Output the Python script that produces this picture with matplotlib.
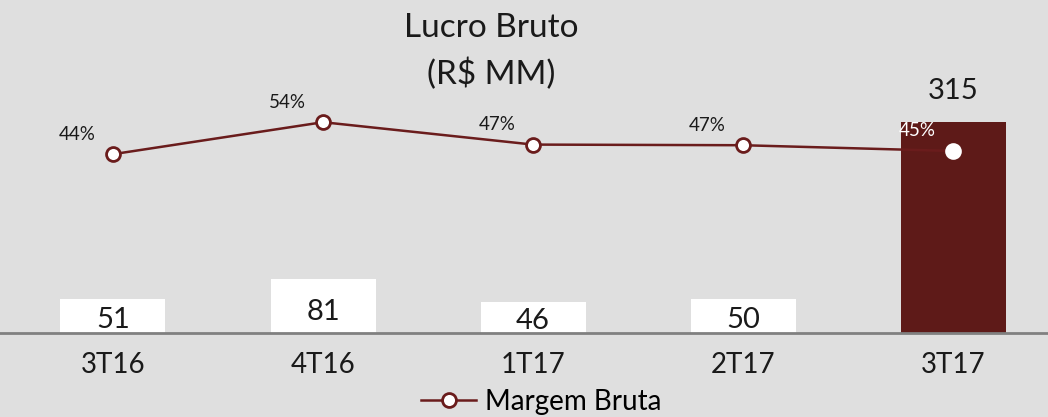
import matplotlib
matplotlib.use("Agg")
import matplotlib.pyplot as plt
from matplotlib.lines import Line2D

plt.rcParams['font.family'] = ['Lato', 'DejaVu Sans']

categories = ["3T16", "4T16", "1T17", "2T17", "3T17"]
lucro_bruto = [51, 81, 46, 50, 315]
margem_bruta = [44, 54, 47, 46.8, 45]
margem_labels = ["44%", "54%", "47%", "47%", "45%"]
title_text = "Lucro Bruto\n(R$ MM)"
legend_label = "Margem Bruta"

bg = "#dfdfdf"
dark_red = "#5e1a18"
line_red = "#6a1c1c"
bar_colors = ["white", "white", "white", "white", dark_red]

W, H = 1048, 417
fig = plt.figure(figsize=(W / 100, H / 100), dpi=100, facecolor=bg)
ax = fig.add_axes([0, 1 - 333 / H, 1, 333 / H])
ax.set_facecolor(bg)

x = list(range(len(categories)))
bars = ax.bar(x, lucro_bruto, width=0.5, color=bar_colors, zorder=2)
ax.set_xlim(-0.538, 4.452)
ax.set_ylim(0, 497)

for s in ["top", "right", "left"]:
    ax.spines[s].set_visible(False)
ax.spines["bottom"].set_color("#808080")
ax.spines["bottom"].set_linewidth(2)
ax.set_yticks([])
ax.set_xticks(x)
ax.set_xticklabels(categories, fontsize=20, color="#1a1a1a")
ax.tick_params(axis="x", length=0, pad=14)

# bar value labels
for i, v in enumerate(lucro_bruto):
    if i == len(lucro_bruto) - 1:
        ax.annotate(str(v), (i, v), xytext=(0, 13), textcoords="offset points",
                    ha="center", va="bottom", fontsize=21, color="#1a1a1a")
    else:
        ax.text(i, v * 0.39, str(v), ha="center", va="center", fontsize=21,
                color="#1a1a1a", zorder=3)

ax2 = ax.twinx()
ax2.set_ylim(-11.9, 92.2)
ax2.set_axis_off()
ax2.plot(x, margem_bruta, color=line_red, lw=1.8, zorder=3)
face = ["white"] * 5
edge = [line_red] * 4 + ["white"]
for i, m in enumerate(margem_bruta):
    ax2.plot(i, m, marker="o", ms=10, mfc=face[i], mec=edge[i], mew=2, zorder=4)
    ax2.annotate(margem_labels[i], (i, m), xytext=(-26, 14.5), textcoords="offset points",
                 ha="center", va="center", fontsize=13.5,
                 color="white" if i == len(margem_bruta) - 1 else "#1a1a1a")

fig.text(491 / W, 1 - 13 / H, title_text, ha="center", va="top", fontsize=24,
         color="#1a1a1a", linespacing=1.55)
handle = Line2D([], [], color=line_red, lw=1.8, marker="o", ms=10, mfc="white",
                mec=line_red, mew=2)
fig.legend([handle], [legend_label], loc="center", bbox_to_anchor=(541 / W, 1 - 402 / H),
           frameon=False, fontsize=20, handlelength=2.0, handletextpad=0.3,
           borderaxespad=0, borderpad=0)

fig.savefig("out.png", dpi=100, facecolor=bg)
